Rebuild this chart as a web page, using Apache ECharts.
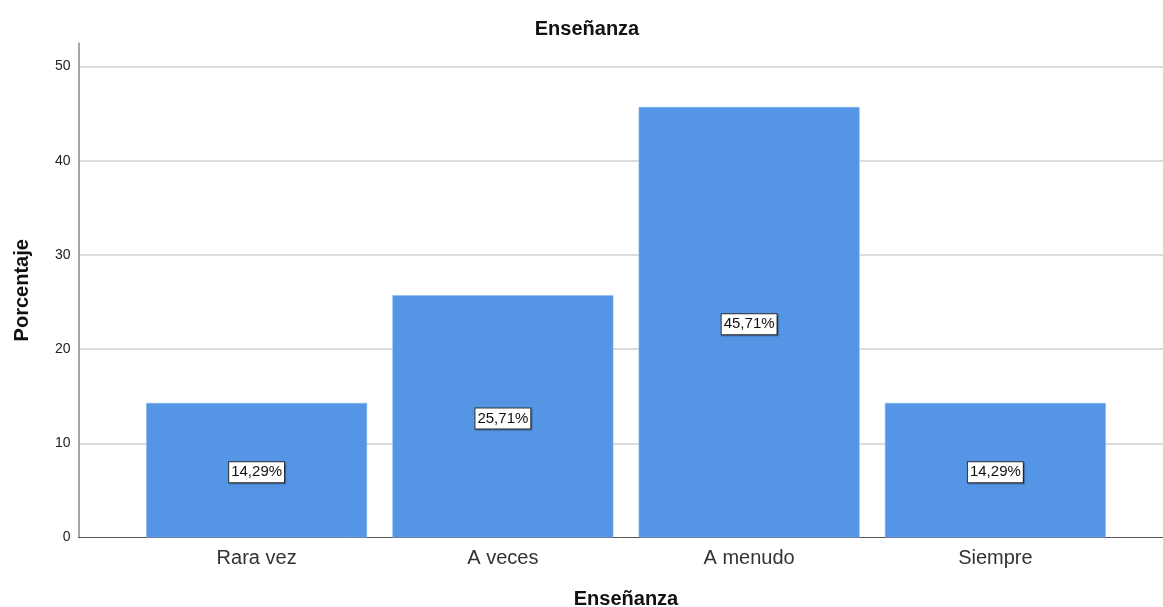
<!DOCTYPE html>
<html>
<head>
<meta charset="utf-8">
<script src="https://cdn.jsdelivr.net/npm/echarts@6/dist/echarts.min.js"></script>
<style>
html,body{margin:0;padding:0;background:#fff;}
#chart{width:1163px;height:607px;}
</style>
</head>
<body>
<div id="chart"></div>
<script>
const categories = ['Rara vez', 'A veces', 'A menudo', 'Siempre'];
const percentages = [14.29, 25.71, 45.71, 14.29];
const yTicks = [0, 10, 20, 30, 40, 50];
const titleText = 'Enseñanza';
const xName = 'Enseñanza';
const yName = 'Porcentaje';

const FONT = '"Liberation Sans", Arial, sans-serif';
const chart = echarts.init(document.getElementById('chart'), null, {renderer: 'canvas'});
const option = {
  animation: false,
  backgroundColor: '#fff',
  title: {
    text: titleText,
    left: 582, top: 14,
    textAlign: 'center',
    textStyle: {fontFamily: FONT, fontSize: 20, fontWeight: 'bold', color: '#111'}
  },
  grid: [
    {left: 78.5, right: 0, top: 43, bottom: 69.5, outerBoundsMode: 'none', containLabel: false},
    {left: 133.5, right: 44.5, top: 43, bottom: 69.5, outerBoundsMode: 'none', containLabel: false}
  ],
  xAxis: [
    {
      type: 'value', gridIndex: 0, min: 0, max: 1,
      axisLine: {show: true, lineStyle: {color: '#555', width: 1}},
      axisTick: {show: false}, axisLabel: {show: false}, splitLine: {show: false}
    },
    {
      type: 'category', gridIndex: 1, data: categories,
      axisLine: {show: false}, axisTick: {show: false},
      axisLabel: {fontFamily: FONT, fontSize: 20, color: '#333', margin: 11},
      name: xName, nameLocation: 'middle', nameGap: 52,
      nameTextStyle: {fontFamily: FONT, fontSize: 20, fontWeight: 'bold', color: '#111'}
    }
  ],
  yAxis: [
    {
      type: 'value', gridIndex: 0, min: 0, max: 52.5, interval: 10,
      axisLine: {show: true, lineStyle: {color: '#888', width: 1.5}},
      axisTick: {show: false},
      axisLabel: {
        fontFamily: FONT, fontSize: 14, color: '#222', margin: 8,
        showMaxLabel: false,
        formatter: v => (yTicks.indexOf(v) >= 0 ? String(v) : '')
      },
      splitLine: {show: true, showMaxLine: false, showMinLine: false, lineStyle: {color: '#d0d0d0', width: 1.5}},
      name: yName, nameLocation: 'middle', nameGap: 46,
      nameTextStyle: {fontFamily: FONT, fontSize: 20, fontWeight: 'bold', color: '#111'}
    },
    {
      type: 'value', gridIndex: 1, min: 0, max: 52.5,
      show: false
    }
  ],
  series: [{
    type: 'bar',
    xAxisIndex: 1, yAxisIndex: 1,
    data: percentages,
    barCategoryGap: '10.3%',
    itemStyle: {color: '#5595E5', borderColor: '#8ab6ee', borderWidth: 0.5},
    label: {
      show: true, position: 'inside', offset: [0, 2],
      formatter: p => p.value.toFixed(2).replace('.', ',') + '%',
      fontFamily: FONT, fontSize: 15, color: '#111',
      backgroundColor: '#fff', borderColor: '#333', borderWidth: 1,
      padding: [3, 2, 2, 2],
      shadowColor: 'rgba(0,0,0,0.35)', shadowOffsetX: 1, shadowOffsetY: 1, shadowBlur: 1
    }
  }]
};
chart.setOption(option);
</script>
</body>
</html>
